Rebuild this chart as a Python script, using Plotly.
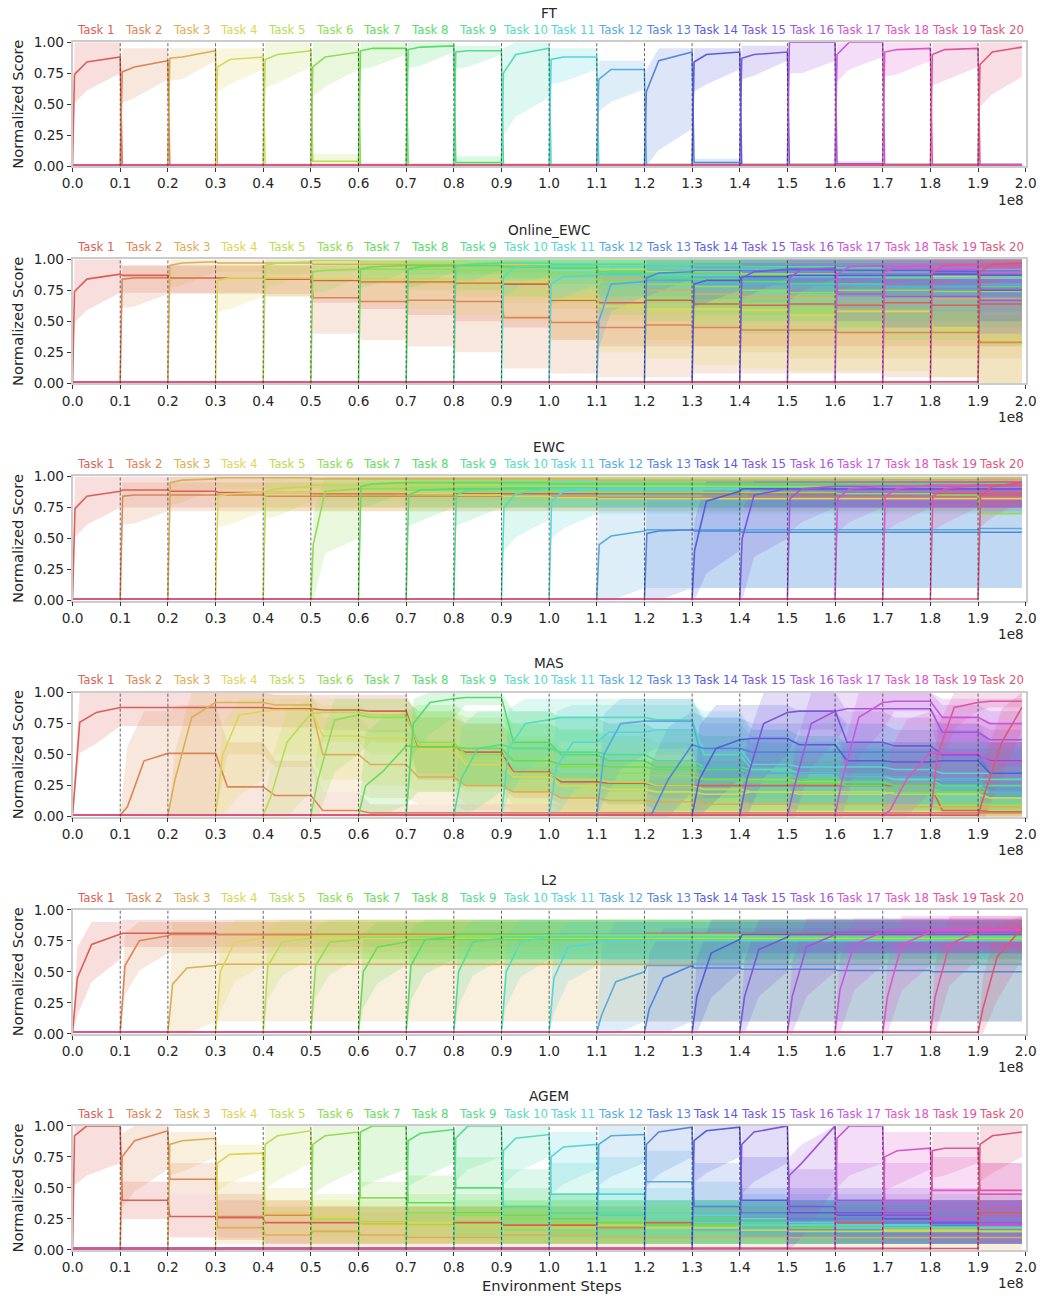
import colorsys
import plotly.graph_objects as go

# ---------------- data ----------------
N_TASKS = 20
STEPS_PER_TASK = 1e7
TASK_NAMES = ["Task 1", "Task 2", "Task 3", "Task 4", "Task 5", "Task 6", "Task 7", "Task 8", "Task 9", "Task 10",
              "Task 11", "Task 12", "Task 13", "Task 14", "Task 15", "Task 16", "Task 17", "Task 18", "Task 19", "Task 20"]
X_TICK_TEXT = ["0.0", "0.1", "0.2", "0.3", "0.4", "0.5", "0.6", "0.7", "0.8", "0.9", "1.0",
               "1.1", "1.2", "1.3", "1.4", "1.5", "1.6", "1.7", "1.8", "1.9", "2.0"]
Y_TICK_VALS = [0.0, 0.25, 0.5, 0.75, 1.0]
Y_TICK_TEXT = ["0.00", "0.25", "0.50", "0.75", "1.00"]
METHODS = ["FT", "Online_EWC", "EWC", "MAS", "L2", "AGEM"]
PRE_TRAIN_SCORE = 0.012

# For every method: score early in training (two read points inside the task's own segment),
# then the score at the end of each segment from the task's own segment on (a value holds until the next one).
FT_RISE = [[0.74, 0.84], [0.76, 0.8], [0.87, 0.88], [0.8, 0.86], [0.86, 0.9], [0.8, 0.88], [0.93, 0.95], [0.94, 0.96],
           [0.92, 0.93], [0.75, 0.9], [0.86, 0.88], [0.7, 0.78], [0.6, 0.85], [0.84, 0.9], [0.87, 0.9], [1.0, 1.0],
           [0.9, 1.0], [0.92, 0.94], [0.9, 0.94], [0.82, 0.92]]
FT_MEAN = [[0.88, 0.01], [0.85, 0.01], [0.93, 0.01], [0.88, 0.01], [0.93, 0.04, 0.01], [0.92, 0.01], [0.95, 0.01],
           [0.97, 0.03, 0.01], [0.93, 0.01], [0.95, 0.01], [0.88, 0.01], [0.78, 0.01], [0.92, 0.03, 0.01],
           [0.92, 0.01], [0.92, 0.01], [1.0, 0.02, 0.01], [1.0, 0.01], [0.95, 0.01], [0.95, 0.01], [0.96]]
FT_LO = [[0.75, 0.0], [0.7, 0.0], [0.85, 0.0], [0.78, 0.0], [0.8, 0.0], [0.78, 0.0], [0.9, 0.0], [0.92, 0.0],
         [0.9, 0.0], [0.55, 0.0], [0.78, 0.0], [0.62, 0.0], [0.3, 0.0], [0.78, 0.0], [0.85, 0.0], [0.85, 0.0],
         [0.88, 0.0], [0.85, 0.0], [0.8, 0.0], [0.72]]
FT_HI = [[1.0, 0.02], [0.95, 0.02], [0.95, 0.02], [0.95, 0.02], [1.0, 0.1, 0.02], [1.0, 0.02], [1.0, 0.02],
         [1.0, 0.08, 0.02], [0.97, 0.02], [1.0, 0.02], [0.95, 0.02], [0.85, 0.02], [0.95, 0.06, 0.02],
         [0.95, 0.02], [0.97, 0.02], [1.0, 0.04, 0.02], [1.0, 0.02], [1.0, 0.02], [1.0, 0.02], [1.0]]

OE_RISE = [[0.74, 0.84], [0.84, 0.85], [0.95, 0.97], [0.83, 0.85], [0.95, 0.97], [0.9, 0.91], [0.92, 0.94],
           [0.92, 0.94], [0.94, 0.96], [0.86, 0.94], [0.8, 0.86], [0.5, 0.8], [0.85, 0.89], [0.8, 0.83],
           [0.85, 0.9], [0.85, 0.92], [0.88, 0.94], [0.9, 0.94], [0.9, 0.95], [0.9, 0.96]]
OE_MEAN = [[0.88, 0.87, 0.85, 0.85, 0.84, 0.83, 0.82, 0.82, 0.81, 0.8, 0.67, 0.65, 0.67, 0.64, 0.63, 0.64, 0.63, 0.65, 0.63, 0.64],
           [0.85, 0.85, 0.85, 0.85, 0.69, 0.66, 0.67, 0.66, 0.53, 0.49, 0.45, 0.47, 0.45, 0.43, 0.43, 0.41, 0.41, 0.41, 0.33],
           [0.98, 0.97, 0.97, 0.96, 0.96, 0.96, 0.95, 0.95, 0.93, 0.85, 0.75, 0.72, 0.7, 0.7, 0.72, 0.7, 0.68, 0.68],
           [0.85, 0.85, 0.84, 0.83, 0.83, 0.82, 0.82, 0.68, 0.62, 0.6, 0.6, 0.59, 0.55, 0.58, 0.58, 0.45, 0.35],
           [0.98, 0.99, 0.98, 0.97, 0.97, 0.96, 0.95, 0.92, 0.9, 0.9, 0.88, 0.88, 0.87, 0.87, 0.86, 0.86],
           [0.92, 0.92, 0.92, 0.91, 0.9, 0.88, 0.82, 0.8, 0.78, 0.75, 0.73, 0.75, 0.75, 0.74, 0.74],
           [0.95, 0.95, 0.95, 0.94, 0.93, 0.9, 0.88, 0.88, 0.87, 0.87, 0.86, 0.85, 0.85, 0.85],
           [0.95, 0.95, 0.94, 0.93, 0.88, 0.85, 0.84, 0.82, 0.8, 0.8, 0.78, 0.78, 0.78],
           [0.97, 0.97, 0.96, 0.96, 0.95, 0.95, 0.94, 0.94, 0.93, 0.93, 0.93, 0.92],
           [0.95, 0.95, 0.94, 0.93, 0.92, 0.92, 0.91, 0.9, 0.9, 0.9, 0.9],
           [0.87, 0.87, 0.87, 0.87, 0.86, 0.86, 0.86, 0.86, 0.85, 0.85],
           [0.82, 0.83, 0.8, 0.8, 0.79, 0.79, 0.78, 0.78, 0.8],
           [0.9, 0.91, 0.91, 0.91, 0.91, 0.91, 0.91, 0.91],
           [0.83, 0.86, 0.87, 0.87, 0.87, 0.88, 0.87],
           [0.92, 0.92, 0.91, 0.91, 0.9, 0.75],
           [0.93, 0.72, 0.7, 0.7, 0.67],
           [0.95, 0.93, 0.92, 0.9],
           [0.95, 0.93, 0.93],
           [0.96, 0.95],
           [0.97]]
OE_LO = [[0.73, 0.73, 0.73, 0.73, 0.72, 0.65, 0.6, 0.55, 0.5, 0.45, 0.35, 0.3],
         [0.72, 0.72, 0.72, 0.7, 0.4, 0.35, 0.3, 0.25, 0.12, 0.08, 0.05, 0.05, 0.08, 0.08, 0.08, 0.08, 0.05, 0.05, 0.0],
         [0.9, 0.9, 0.88, 0.85, 0.8, 0.75, 0.7, 0.65, 0.6, 0.5, 0.35, 0.3, 0.25, 0.2],
         [0.7, 0.7, 0.68, 0.65, 0.6, 0.55, 0.5, 0.35, 0.25, 0.2, 0.15, 0.12, 0.1, 0.1, 0.1, 0.05, 0.0],
         [0.9, 0.9, 0.85, 0.8, 0.75, 0.7, 0.65, 0.6, 0.55, 0.5, 0.5, 0.5, 0.45, 0.45, 0.4],
         [0.85, 0.82, 0.8, 0.75, 0.7, 0.65, 0.55, 0.5, 0.45, 0.4, 0.4, 0.4, 0.35, 0.35, 0.3],
         [0.9, 0.88, 0.85, 0.8, 0.75, 0.7, 0.65, 0.6, 0.55, 0.55, 0.5],
         [0.9, 0.88, 0.85, 0.8, 0.7, 0.6, 0.55, 0.5, 0.5, 0.45],
         [0.92, 0.9, 0.88, 0.85, 0.82, 0.8, 0.78, 0.75, 0.72, 0.7],
         [0.88, 0.85, 0.82, 0.8, 0.78, 0.75, 0.72, 0.7, 0.7, 0.68],
         [0.8, 0.78, 0.75, 0.72, 0.7, 0.7, 0.68, 0.68, 0.65],
         [0.7, 0.7, 0.68, 0.65, 0.62, 0.6, 0.6, 0.58],
         [0.85, 0.85, 0.82, 0.8, 0.8, 0.78],
         [0.75, 0.75, 0.72, 0.7],
         [0.85, 0.82, 0.8, 0.78, 0.75, 0.5],
         [0.85, 0.5, 0.45, 0.45, 0.4],
         [0.88, 0.82, 0.8, 0.75],
         [0.9, 0.85, 0.82],
         [0.9, 0.88],
         [0.9]]
OE_HI = [[1.0, 0.95, 0.95, 0.95, 0.95, 0.95, 0.95, 0.95, 0.95, 0.95, 0.9],
         [0.95, 0.95, 0.95, 0.95, 0.85, 0.85, 0.85, 0.85, 0.8, 0.75, 0.7, 0.7, 0.7, 0.7, 0.65, 0.65, 0.6, 0.6, 0.55],
         [1.0],
         [0.95, 0.95, 0.95, 0.95, 0.95, 0.95, 0.95, 0.9, 0.85, 0.85, 0.85, 0.85, 0.8, 0.8, 0.8, 0.75, 0.7],
         [1.0], [1.0], [1.0], [1.0], [1.0], [1.0], [0.97], [0.95], [1.0], [0.97], [1.0],
         [1.0, 0.9, 0.9, 0.9, 0.9], [1.0], [1.0], [1.0], [1.0]]

EWC_RISE = [[0.74, 0.84], [0.84, 0.85], [0.95, 0.97], [0.84, 0.86], [0.88, 0.9], [0.45, 0.88], [0.92, 0.94],
            [0.85, 0.89], [0.85, 0.89], [0.75, 0.86], [0.8, 0.88], [0.45, 0.52], [0.54, 0.56], [0.4, 0.8],
            [0.5, 0.85], [0.82, 0.9], [0.82, 0.9], [0.84, 0.9], [0.84, 0.9], [0.84, 0.92]]
EWC_MEAN = [[0.88, 0.89, 0.88, 0.87, 0.87, 0.86],
            [0.85, 0.85, 0.85, 0.84, 0.84, 0.84, 0.84, 0.84, 0.84, 0.84, 0.83],
            [0.98, 0.99, 0.99, 0.98, 0.98, 0.98, 0.98, 0.98, 0.98, 0.97],
            [0.87, 0.87, 0.87, 0.87, 0.86, 0.85, 0.84, 0.83, 0.82],
            [0.92, 0.93, 0.93, 0.93, 0.93, 0.92],
            [0.9, 0.9, 0.89, 0.88, 0.88, 0.88, 0.87, 0.87, 0.87, 0.87, 0.87, 0.86, 0.86, 0.85, 0.7],
            [0.95, 0.95, 0.95, 0.95, 0.94],
            [0.9],
            [0.9, 0.91],
            [0.9],
            [0.9],
            [0.56, 0.57, 0.57, 0.57, 0.57, 0.57, 0.57, 0.57, 0.58],
            [0.57, 0.56, 0.55],
            [0.88, 0.9],
            [0.9],
            [0.92],
            [0.92],
            [0.93],
            [0.93],
            [0.95]]
EWC_LO = [[0.75], [0.72], [0.9], [0.72], [0.8], [0.5, 0.75], [0.88], [0.75], [0.75], [0.65, 0.75], [0.7],
          [0.1], [0.1], [0.4, 0.75], [0.5, 0.75], [0.75], [0.75], [0.75], [0.75], [0.8]]
EWC_HI = [[1.0], [0.95], [1.0], [0.95], [1.0], [1.0], [1.0], [0.97], [0.97], [0.97], [0.97],
          [0.95], [0.85], [0.97], [0.97], [0.98], [0.98], [0.98], [0.98], [1.0]]

MAS_RISE = [[0.76, 0.84], [0.08, 0.45], [0.3, 0.8], [0.5, 0.82], [0.15, 0.6], [0.3, 0.78], [0.25, 0.36],
            [0.75, 0.92], [0.3, 0.55], [0.55, 0.75], [0.4, 0.6], [0.5, 0.75], [0.02, 0.3], [0.3, 0.55],
            [0.3, 0.75], [0.25, 0.75], [0.3, 0.8], [0.05, 0.3], [0.5, 0.88], [0.2, 0.6]]
MAS_MEAN = [[0.88, 0.88, 0.88, 0.88, 0.87, 0.86, 0.85, 0.56, 0.52, 0.36, 0.28, 0.27, 0.25, 0.25, 0.25, 0.25, 0.25, 0.25, 0.05, 0.04],
            [0.51, 0.51, 0.24, 0.17, 0.05, 0.03],
            [0.92, 0.92, 0.9, 0.5, 0.42, 0.32, 0.25, 0.2, 0.15, 0.13, 0.12, 0.1, 0.1, 0.1, 0.1, 0.08],
            [0.85, 0.86, 0.65, 0.63, 0.55, 0.42, 0.32, 0.25, 0.22, 0.2, 0.18, 0.2, 0.18, 0.18, 0.2, 0.18, 0.15],
            [0.83, 0.84, 0.82, 0.58, 0.45, 0.35, 0.3, 0.28, 0.25, 0.22, 0.2, 0.2, 0.2, 0.18, 0.18, 0.15],
            [0.82, 0.8, 0.6, 0.5, 0.45, 0.4, 0.35, 0.33, 0.3, 0.3, 0.28, 0.28, 0.25, 0.1, 0.1],
            [0.57, 0.56, 0.55, 0.45, 0.42, 0.4, 0.38, 0.3, 0.28, 0.27, 0.25, 0.2],
            [0.95, 0.96, 0.6, 0.5, 0.45, 0.4, 0.38, 0.35, 0.3, 0.28, 0.25, 0.25, 0.2],
            [0.58, 0.55, 0.52, 0.5, 0.45, 0.4, 0.38, 0.35, 0.33, 0.3, 0.25],
            [0.78, 0.8, 0.8, 0.78, 0.5, 0.38, 0.35, 0.33, 0.3],
            [0.6, 0.68, 0.7, 0.55, 0.42, 0.4, 0.4, 0.38, 0.35],
            [0.77, 0.77, 0.4, 0.35, 0.35, 0.33, 0.32, 0.3, 0.2],
            [0.58, 0.55, 0.52, 0.52, 0.52, 0.52, 0.5, 0.35],
            [0.62, 0.63, 0.58, 0.45, 0.44, 0.45, 0.35],
            [0.84, 0.85, 0.6, 0.57, 0.5, 0.45],
            [0.85, 0.87, 0.87, 0.68, 0.62],
            [0.92, 0.93, 0.8, 0.75],
            [0.52, 0.51, 0.44],
            [0.92, 0.93],
            [0.88]]
MAS_LO = [[0.73, 0.73, 0.73, 0.73, 0.72, 0.7, 0.68, 0.3, 0.25, 0.15, 0.1, 0.1, 0.1, 0.1, 0.1, 0.1, 0.1, 0.1, 0.0],
          [0.0],
          [0.0, 0.5, 0.4, 0.2, 0.15, 0.1, 0.05, 0.0],
          [0.3, 0.5, 0.3, 0.25, 0.2, 0.1, 0.05, 0.0],
          [0.2, 0.6, 0.5, 0.3, 0.2, 0.1, 0.05, 0.0],
          [0.5, 0.6, 0.35, 0.25, 0.2, 0.15, 0.1, 0.05],
          [0.1, 0.2, 0.25, 0.2, 0.15, 0.1, 0.05],
          [0.8, 0.9, 0.35, 0.25, 0.2, 0.15, 0.1, 0.1, 0.05],
          [0.2, 0.3, 0.3, 0.25, 0.2, 0.15, 0.1],
          [0.5, 0.6, 0.6, 0.55, 0.25, 0.15, 0.1],
          [0.3, 0.45, 0.5, 0.3, 0.2, 0.15],
          [0.5, 0.55, 0.15, 0.1],
          [0.2, 0.3, 0.3, 0.3, 0.3, 0.3, 0.25, 0.15],
          [0.3, 0.4, 0.35, 0.25, 0.25, 0.2, 0.15],
          [0.5, 0.7, 0.35, 0.3, 0.25, 0.2],
          [0.6, 0.75, 0.75, 0.45, 0.4],
          [0.7, 0.85, 0.6, 0.55],
          [0.2, 0.3, 0.25],
          [0.85, 0.88],
          [0.7]]
MAS_HI = [[1.0, 1.0, 1.0, 1.0, 0.98, 0.98, 0.98, 0.8, 0.75, 0.6, 0.5, 0.45, 0.45, 0.45, 0.45, 0.45, 0.45, 0.45, 0.15],
          [0.85, 0.9, 0.6, 0.45, 0.2, 0.1],
          [1.0, 1.0, 1.0, 0.8, 0.7, 0.6, 0.5, 0.4, 0.35, 0.3],
          [0.95, 0.95, 0.9, 0.85, 0.8, 0.7, 0.6, 0.5, 0.45, 0.4],
          [0.95, 0.95, 0.95, 0.85, 0.75, 0.65, 0.55, 0.5, 0.45],
          [0.95, 0.95, 0.85, 0.8, 0.75, 0.7, 0.6, 0.55],
          [0.85, 0.9, 0.85, 0.75, 0.7, 0.65, 0.6, 0.5],
          [1.0, 1.0, 0.85, 0.8, 0.75, 0.7, 0.65, 0.6],
          [0.85, 0.85, 0.8, 0.75, 0.7, 0.65, 0.6, 0.55],
          [0.95, 0.95, 0.95, 0.95, 0.8, 0.7, 0.65, 0.6],
          [0.9, 0.9, 0.9, 0.85, 0.7, 0.65, 0.6],
          [0.95, 0.95, 0.75, 0.65, 0.6, 0.6, 0.55],
          [0.85, 0.8, 0.75, 0.75, 0.75, 0.75, 0.75, 0.6],
          [0.9, 0.9, 0.85, 0.75, 0.7, 0.7, 0.6],
          [1.0, 1.0, 0.85, 0.8, 0.75, 0.7],
          [1.0, 1.0, 1.0, 0.9, 0.85],
          [1.0, 1.0, 0.95, 0.95],
          [0.85, 0.8, 0.75],
          [1.0],
          [1.0]]

L2_RISE = [[0.45, 0.72], [0.55, 0.75], [0.4, 0.53], [0.5, 0.74], [0.55, 0.74], [0.55, 0.74], [0.5, 0.7],
           [0.55, 0.76], [0.5, 0.74], [0.5, 0.74], [0.45, 0.7], [0.15, 0.42], [0.2, 0.45], [0.3, 0.65],
           [0.3, 0.68], [0.3, 0.7], [0.35, 0.72], [0.3, 0.72], [0.3, 0.72], [0.2, 0.62]]
L2_MEAN = [[0.8, 0.81, 0.81, 0.8, 0.8, 0.8, 0.8, 0.8, 0.8, 0.8, 0.8, 0.8, 0.81, 0.81, 0.81, 0.81, 0.82, 0.82, 0.82, 0.83],
           [0.79, 0.8],
           [0.55, 0.56],
           [0.77, 0.78, 0.77],
           [0.77, 0.79],
           [0.76, 0.78],
           [0.74, 0.76],
           [0.78, 0.8],
           [0.77, 0.78],
           [0.78, 0.8],
           [0.73, 0.75],
           [0.5, 0.55, 0.56],
           [0.55, 0.53, 0.52, 0.52, 0.51, 0.51, 0.5],
           [0.76, 0.8],
           [0.78, 0.8],
           [0.8, 0.82],
           [0.82, 0.83],
           [0.82, 0.84],
           [0.83, 0.85],
           [0.85]]
L2_LO = [[0.6, 0.7], [0.65], [0.1], [0.55], [0.6], [0.6], [0.55], [0.6], [0.6], [0.6], [0.55],
         [0.1], [0.1], [0.5, 0.65], [0.5, 0.65], [0.5, 0.65], [0.55, 0.68], [0.55, 0.68], [0.6, 0.7], [0.6]]
L2_HI = [[0.9, 0.92], [0.9], [0.9], [0.92], [0.92], [0.92], [0.9], [0.92], [0.92], [0.92], [0.9],
         [0.9], [0.85], [0.92], [0.92], [0.93], [0.93], [0.95], [0.95], [0.95]]

AGEM_RISE = [[0.92, 1.0], [0.75, 0.88], [0.85, 0.88], [0.7, 0.77], [0.85, 0.92], [0.85, 0.92], [0.95, 1.0],
             [0.88, 0.94], [0.9, 1.0], [0.8, 0.9], [0.75, 0.83], [0.85, 0.92], [0.85, 0.95], [0.88, 0.96],
             [0.85, 0.95], [0.6, 0.7], [0.9, 1.0], [0.75, 0.8], [0.8, 0.82], [0.85, 0.92]]
AGEM_MEAN = [[1.0, 0.4, 0.27, 0.26, 0.22, 0.22, 0.2, 0.2, 0.22, 0.2, 0.2, 0.2, 0.22, 0.22, 0.25, 0.25, 0.22, 0.22, 0.22, 0.3],
             [0.96, 0.57, 0.27, 0.28, 0.25, 0.22, 0.2, 0.2, 0.18, 0.18, 0.18, 0.2, 0.2, 0.2, 0.2, 0.2, 0.18],
             [0.9, 0.18, 0.12, 0.15, 0.12, 0.1, 0.1, 0.12, 0.12, 0.1],
             [0.78, 0.3, 0.27, 0.2, 0.22, 0.2, 0.18, 0.18, 0.2, 0.18, 0.18, 0.2, 0.18, 0.18, 0.16, 0.16, 0.15],
             [0.96, 0.25, 0.22, 0.2, 0.2, 0.18, 0.18, 0.2, 0.18, 0.18, 0.16, 0.15],
             [0.95, 0.42, 0.3, 0.28, 0.25, 0.22, 0.22, 0.2, 0.2, 0.2, 0.2, 0.2, 0.2, 0.18],
             [1.0, 0.38, 0.3, 0.28, 0.25, 0.22, 0.2, 0.2, 0.2, 0.18],
             [0.97, 0.5, 0.35, 0.3, 0.28, 0.25, 0.25, 0.22, 0.2],
             [1.0, 0.35, 0.3, 0.28, 0.25, 0.22, 0.22, 0.2],
             [0.93, 0.45, 0.3, 0.25, 0.22, 0.2, 0.2, 0.18],
             [0.85, 0.45, 0.3, 0.28, 0.25, 0.22, 0.2],
             [0.93, 0.55, 0.35, 0.3, 0.25, 0.25, 0.22, 0.22, 0.2],
             [0.99, 0.35, 0.3, 0.25, 0.25, 0.22, 0.2],
             [0.99, 0.4, 0.3, 0.28, 0.25, 0.22, 0.2],
             [1.0, 0.35, 0.3, 0.28, 0.22, 0.2],
             [1.0, 0.4, 0.3, 0.25, 0.22],
             [1.0, 0.4, 0.25, 0.2],
             [0.82, 0.48, 0.45],
             [0.82, 0.48],
             [0.95]]
AGEM_LO = [[0.7, 0.25, 0.1, 0.08, 0.05], [0.65, 0.45, 0.1, 0.05], [0.75, 0.05, 0.0], [0.65, 0.1, 0.05],
           [0.7, 0.1, 0.05], [0.65, 0.2, 0.1, 0.05], [0.65, 0.2, 0.1, 0.05], [0.7, 0.3, 0.15, 0.1],
           [0.75, 0.15, 0.1, 0.05], [0.75, 0.25, 0.1, 0.05], [0.65, 0.25, 0.1, 0.05], [0.7, 0.35, 0.15, 0.1],
           [0.75, 0.15, 0.1, 0.05], [0.75, 0.2, 0.1, 0.05], [0.7, 0.15, 0.1, 0.05], [0.5, 0.2, 0.1, 0.05],
           [0.7, 0.2, 0.1, 0.05], [0.65, 0.3, 0.25], [0.7, 0.3], [0.75]]
AGEM_HI = [[1.0, 0.55, 0.45, 0.4, 0.35], [1.0, 0.7, 0.45, 0.4, 0.35], [0.95, 0.55, 0.4, 0.35, 0.3],
           [0.85, 0.5, 0.4, 0.35], [1.0, 0.45, 0.4, 0.35], [1.0, 0.55, 0.45, 0.4], [1.0, 0.6, 0.45, 0.4],
           [1.0, 0.75, 0.5, 0.45, 0.4], [1.0, 0.65, 0.45, 0.4], [1.0, 0.7, 0.5, 0.4], [0.95, 0.75, 0.5, 0.4],
           [1.0, 0.8, 0.55, 0.45], [1.0, 0.7, 0.5, 0.4], [1.0, 0.75, 0.5, 0.4], [1.0, 0.65, 0.5, 0.4],
           [1.0, 0.7, 0.5, 0.4], [1.0, 0.7, 0.5, 0.4], [0.95, 0.75, 0.7], [0.95, 0.7], [1.0]]

METHOD_DATA = {
    "FT": (FT_RISE, FT_MEAN, FT_LO, FT_HI),
    "Online_EWC": (OE_RISE, OE_MEAN, OE_LO, OE_HI),
    "EWC": (EWC_RISE, EWC_MEAN, EWC_LO, EWC_HI),
    "MAS": (MAS_RISE, MAS_MEAN, MAS_LO, MAS_HI),
    "L2": (L2_RISE, L2_MEAN, L2_LO, L2_HI),
    "AGEM": (AGEM_RISE, AGEM_MEAN, AGEM_LO, AGEM_HI),
}
# where (as a fraction of the task's segment) the two early-training reads were taken
RISE_AT = {"FT": (0.04, 0.3), "Online_EWC": (0.04, 0.3), "EWC": (0.05, 0.3), "MAS": (0.15, 0.5),
           "L2": (0.1, 0.4), "AGEM": (0.04, 0.3)}
# fraction of a segment a forgetting transition takes
TRANSITION = {"FT": 0.04, "Online_EWC": 0.05, "EWC": 0.05, "MAS": 0.25, "L2": 0.05, "AGEM": 0.04}

# ---------------- style ----------------
# Measured: the photographed page shows the body's 8px margin and comes out slightly smaller,
# so targets (in photo pixels) are converted to figure pixels.
BODY_MARGIN = 8
Y_SCALE = 0.987
X_SCALE, X_OFF = 0.9788, 2.6
FIG_W, FIG_H = 1045, 1297
PLOT_LEFT, PLOT_RIGHT = 72, 1025               # photo pixels
PANEL_TOPS = [42, 259, 476, 692, 909, 1125]    # photo pixels
PANEL_H = 124                                   # photo pixels
FONT = "DejaVu Sans"
LAST_X = 19.92
K = 1 / Y_SCALE


def fx(x):
    return ((x - X_OFF) / X_SCALE - BODY_MARGIN) / FIG_W


def fy(y):
    return 1 - (y / Y_SCALE - BODY_MARGIN) / FIG_H


def hls_palette(n, h=0.01, l=0.6, s=0.65):
    cols = []
    for i in range(n):
        hue = (i / n + h) % 1
        r, g, b = colorsys.hls_to_rgb(hue, l, s)
        cols.append((int(round(r * 255)), int(round(g * 255)), int(round(b * 255))))
    return cols


PALETTE = hls_palette(N_TASKS)


def at(lst, k):
    return lst[min(k, len(lst) - 1)]


def task_curves(i, rise, mean, lo, hi, tr, rise_at):
    xs = [0.0, float(i)]
    ys = [PRE_TRAIN_SCORE, PRE_TRAIN_SCORE]
    bx, blo, bhi = [float(i)], [0.0], [PRE_TRAIN_SCORE]
    m0, lo0, hi0 = at(mean, 0), at(lo, 0), at(hi, 0)
    for frac, r in zip(rise_at, rise):
        xs.append(i + frac)
        ys.append(r)
        bx.append(i + frac)
        blo.append(max(0.0, min(lo0, r - (m0 - lo0) - 0.1)))
        bhi.append(max(r, min(hi0, r + (hi0 - m0) + 0.15)))
    end0 = min(i + 1.0, LAST_X)
    xs.append(end0)
    ys.append(m0)
    bx.append(end0)
    blo.append(min(lo0, m0))
    bhi.append(max(hi0, m0))
    for j in range(i + 1, N_TASKS):
        k = j - i
        m, l_, h_ = at(mean, k), at(lo, k), at(hi, k)
        for xx in (j + tr, min(j + 1.0, LAST_X)):
            xs.append(xx)
            ys.append(m)
            bx.append(xx)
            blo.append(min(l_, m))
            bhi.append(max(h_, m))
    scale = STEPS_PER_TASK
    return ([x * scale for x in xs], ys, [x * scale for x in bx], blo, bhi)


fig = go.Figure()
layout = dict(width=FIG_W, height=FIG_H, margin=dict(l=0, r=0, t=0, b=0),
              paper_bgcolor="white", plot_bgcolor="white", showlegend=False,
              font=dict(family=FONT, color="#262626"))
annotations = []
shapes = []
TICK_SIZE = 13.5 * K
TASK_SIZE = 11.6 * K
LABEL_SIZE = 14.5 * K

for p, method in enumerate(METHODS):
    rise_all, mean_all, lo_all, hi_all = METHOD_DATA[method]
    sfx = "" if p == 0 else str(p + 1)
    xa, ya = "x" + sfx, "y" + sfx
    top = PANEL_TOPS[p]
    ydom = [fy(top + PANEL_H), fy(top)]
    xdom = [fx(PLOT_LEFT), fx(PLOT_RIGHT)]
    curves = [task_curves(i, rise_all[i], mean_all[i], lo_all[i], hi_all[i], TRANSITION[method], RISE_AT[method])
              for i in range(N_TASKS)]
    for i, (xs, ys, bx, blo, bhi) in enumerate(curves):
        r, g, b = PALETTE[i]
        fig.add_trace(go.Scatter(x=bx + bx[::-1], y=bhi + blo[::-1], fill="toself",
                                 fillcolor=f"rgba({r},{g},{b},0.2)", line=dict(width=0),
                                 mode="lines", hoverinfo="skip", xaxis=xa, yaxis=ya))
    for i, (xs, ys, bx, blo, bhi) in enumerate(curves):
        r, g, b = PALETTE[i]
        fig.add_trace(go.Scatter(x=xs, y=ys, mode="lines", line=dict(color=f"rgb({r},{g},{b})", width=1.6),
                                 name=TASK_NAMES[i], xaxis=xa, yaxis=ya))
    axis_common = dict(showline=True, mirror=True, linecolor="#cccccc", linewidth=1.5, showgrid=False,
                       zeroline=False, ticks="outside", ticklen=4, tickwidth=1, tickcolor="#333333",
                       tickfont=dict(size=TICK_SIZE, color="#262626", family=FONT))
    layout["xaxis" + sfx] = dict(axis_common, domain=xdom, anchor=ya, range=[0, N_TASKS * STEPS_PER_TASK],
                                 tickmode="array", tickvals=[k * STEPS_PER_TASK for k in range(N_TASKS + 1)],
                                 ticktext=X_TICK_TEXT, ticklabeloverflow="allow")
    layout["yaxis" + sfx] = dict(axis_common, domain=ydom, anchor=xa, range=[0, 1.0],
                                 tickmode="array", tickvals=Y_TICK_VALS, ticktext=Y_TICK_TEXT)
    for k in range(1, N_TASKS):
        shapes.append(dict(type="line", xref=xa, yref=ya + " domain", x0=k * STEPS_PER_TASK,
                           x1=k * STEPS_PER_TASK, y0=0, y1=1, layer="above",
                           line=dict(color="rgba(30,30,30,0.85)", width=0.8, dash="3px,2px")))
    for i in range(N_TASKS):
        r, g, b = PALETTE[i]
        annotations.append(dict(text=TASK_NAMES[i], xref=xa, yref=ya + " domain",
                                x=(i + 0.5) * STEPS_PER_TASK, y=1, yshift=12 * K, showarrow=False,
                                xanchor="center", yanchor="middle",
                                font=dict(size=TASK_SIZE, color=f"rgb({r},{g},{b})", family=FONT)))
    annotations.append(dict(text=method, xref=xa + " domain", yref=ya + " domain", x=0.5, y=1, yshift=29 * K,
                            showarrow=False, xanchor="center", yanchor="middle",
                            font=dict(size=TICK_SIZE, color="#262626", family=FONT)))
    annotations.append(dict(text="1e8", xref=xa + " domain", yref=ya + " domain", x=1, y=0, yshift=-33 * K,
                            showarrow=False, xanchor="right", yanchor="middle",
                            font=dict(size=TICK_SIZE, color="#262626", family=FONT)))
    annotations.append(dict(text="Normalized Score", xref="paper", yref="paper", x=fx(17),
                            y=(ydom[0] + ydom[1]) / 2, textangle=-90, showarrow=False,
                            xanchor="center", yanchor="middle",
                            font=dict(size=LABEL_SIZE, color="#262626", family=FONT)))

annotations.append(dict(text="Environment Steps", xref="paper", yref="paper", x=fx(551),
                        y=fy(1285), showarrow=False, xanchor="center", yanchor="middle",
                        font=dict(size=LABEL_SIZE, color="#262626", family=FONT)))
layout["annotations"] = annotations
layout["shapes"] = shapes
fig.update_layout(**layout)
fig.write_html("out.html")
